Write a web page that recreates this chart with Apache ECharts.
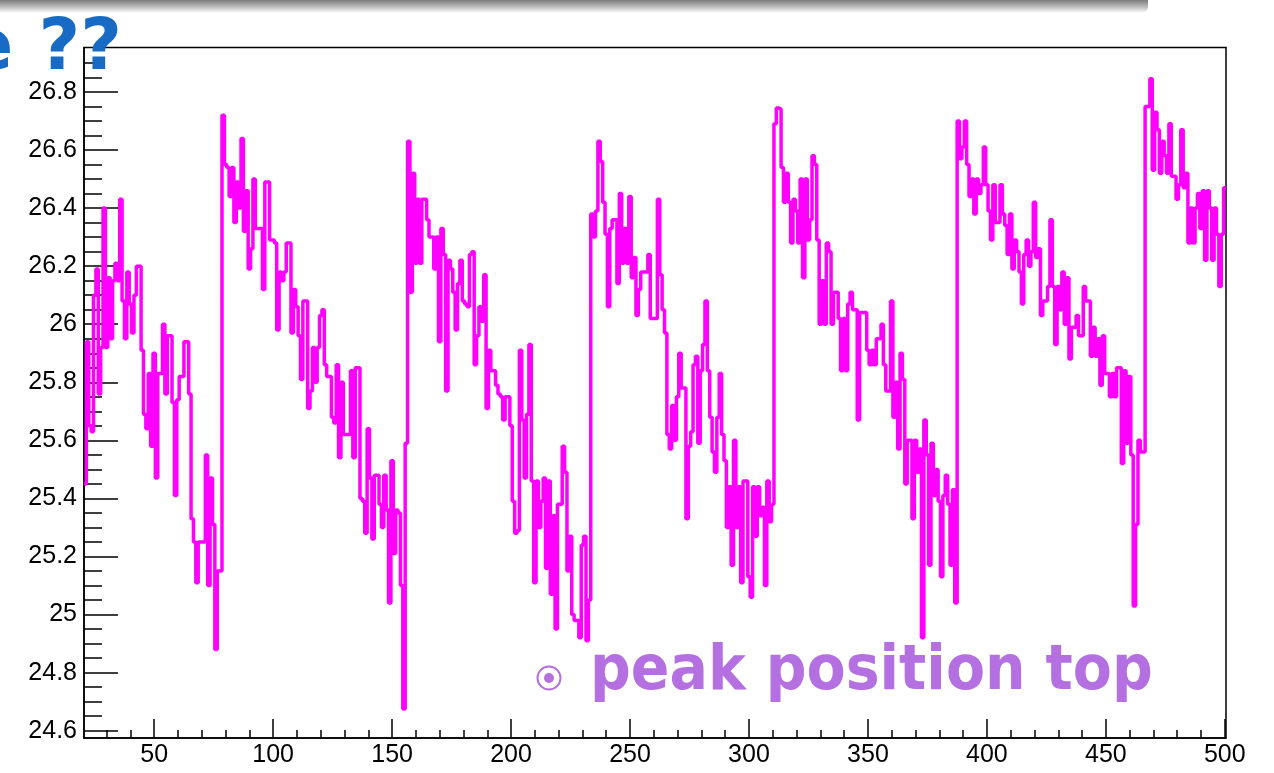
<!DOCTYPE html>
<html>
<head>
<meta charset="utf-8">
<script src="https://cdn.jsdelivr.net/npm/echarts@6/dist/echarts.min.js"></script>
<style>
  html, body { margin: 0; padding: 0; background: #fff; }
  #chart { width: 1274px; height: 773px; }
</style>
</head>
<body>
<div id="chart"></div>
<script>
// ---- data (bin width 1, first bin centred at 21) ----
const firstBin = 21;
const bins021to100 = [25.45,25.94,25.65,25.63,26.10,26.19,25.76,25.92,26.40,25.92,
  26.16,25.95,26.15,26.21,26.15,26.43,26.08,25.95,26.18,26.07,
  25.97,26.10,26.20,26.20,25.91,25.69,25.64,25.83,25.58,25.90,
  25.47,25.83,25.83,26.00,25.76,25.96,25.96,25.73,25.41,25.74,
  25.82,25.82,25.94,25.94,25.76,25.33,25.25,25.11,25.25,25.25,
  25.25,25.55,25.10,25.47,25.31,24.88,25.15,25.15,26.72,26.55,
  26.54,26.44,26.54,26.35,26.49,26.40,26.64,26.32,26.46,26.19,
  26.26,26.50,26.33,26.33,26.33,26.12,26.49,26.49,26.29,26.29];
const bins101to180 = [26.28,25.98,26.18,26.15,26.18,26.28,26.28,25.97,26.12,26.06,
  25.96,25.81,26.08,26.08,25.71,25.77,25.92,25.80,25.92,26.03,
  26.05,25.86,25.82,25.82,25.68,25.66,25.86,25.54,25.80,25.62,
  25.62,25.62,25.84,25.54,25.85,25.85,25.40,25.39,25.28,25.64,
  25.47,25.26,25.48,25.48,25.38,25.30,25.48,25.36,25.04,25.53,
  25.21,25.36,25.35,25.10,24.675,25.59,26.63,26.11,26.52,26.21,
  26.43,26.21,26.43,26.43,26.36,26.30,26.30,26.19,26.30,25.94,
  26.33,26.24,25.77,26.22,26.19,26.11,25.98,26.14,26.22,26.08];
const bins181to260 = [26.07,26.06,26.24,26.25,25.86,25.96,26.06,26.01,26.17,25.71,
  25.91,25.84,25.84,25.79,25.76,25.75,25.67,25.75,25.75,25.65,
  25.39,25.28,25.29,25.91,25.67,25.47,25.69,25.93,25.46,25.11,
  25.46,25.30,25.39,25.47,25.16,25.46,25.07,25.34,24.95,25.38,
  25.38,25.58,25.49,25.15,25.27,25.00,24.98,24.98,24.92,25.24,
  25.27,24.91,25.05,26.38,26.30,26.39,26.63,26.56,26.42,26.31,
  26.06,26.33,26.36,26.36,26.14,26.45,26.21,26.33,26.21,26.44,
  26.16,26.23,26.03,26.12,26.18,26.18,26.18,26.24,26.02,26.02];
const bins261to340 = [26.02,26.43,26.17,26.05,25.97,25.62,25.57,25.72,25.60,25.75,
  25.90,25.78,25.78,25.33,25.58,25.63,25.86,25.89,25.59,25.84,
  25.93,26.08,25.84,25.68,25.56,25.49,25.68,25.83,25.62,25.53,
  25.30,25.44,25.17,25.60,25.30,25.44,25.11,25.46,25.46,25.13,
  25.06,25.44,25.27,25.44,25.34,25.37,25.10,25.46,25.32,25.38,
  26.69,26.745,26.74,26.54,26.42,26.52,26.42,26.28,26.43,26.39,
  26.28,26.50,26.16,26.50,26.29,26.36,26.58,26.55,26.29,26.00,
  26.15,26.00,26.28,26.25,26.00,26.11,26.11,26.02,25.84,26.02];
const bins341to420 = [25.84,26.07,26.11,26.05,26.05,25.67,26.04,26.04,26.04,25.91,
  25.86,25.91,25.86,25.95,25.95,26.00,25.86,25.77,25.77,26.08,
  25.68,25.80,25.57,25.90,25.81,25.45,25.60,25.60,25.33,25.60,
  25.49,25.57,24.92,25.67,25.55,25.17,25.59,25.41,25.50,25.39,
  25.13,25.41,25.48,25.38,25.17,25.43,25.04,26.70,26.57,26.61,
  26.70,26.55,26.44,26.50,26.38,26.50,26.45,26.48,26.61,26.48,
  26.39,26.29,26.48,26.35,26.35,26.48,26.38,26.34,26.24,26.38,
  26.19,26.29,26.25,26.18,26.07,26.24,26.29,26.20,26.25,26.42];
const bins421to500 = [26.23,26.26,26.03,26.08,26.08,26.13,26.36,26.13,25.93,26.13,
  26.05,26.18,26.00,26.16,25.88,25.99,25.99,26.03,25.96,25.96,
  26.13,26.08,26.08,25.89,25.99,25.89,25.95,25.79,25.96,25.83,
  25.83,25.75,25.83,25.75,25.85,25.85,25.52,25.84,25.59,25.82,
  25.55,25.03,25.31,25.60,25.56,25.56,26.75,26.75,26.845,26.53,
  26.73,26.67,26.52,26.63,26.58,26.52,26.69,26.51,26.51,26.43,
  26.48,26.67,26.47,26.52,26.28,26.40,26.28,26.40,26.45,26.33,
  26.46,26.22,26.46,26.40,26.22,26.40,26.31,26.13,26.31,26.47];

const xMajorTicks = [50,100,150,200,250,300,350,400,450,500];
const xMinorTicks = [30,40,60,70,80,90,110,120,130,140,160,170,180,190,210,220,230,240,260,270,280,290,310,320,330,340,360,370,380,390,410,420,430,440,460,470,480,490];
const yMajorTicks = [24.6,24.8,25,25.2,25.4,25.6,25.8,26,26.2,26.4,26.6,26.8];
const yMinorTicks = [24.6,24.65,24.7,24.75,24.8,24.85,24.9,24.95,25,25.05,25.1,25.15,25.2,25.25,25.3,25.35,25.4,25.45,25.5,25.55,25.6,25.65,25.7,25.75,25.8,25.85,25.9,25.95,26,26.05,26.1,26.15,26.2,26.25,26.3,26.35,26.4,26.45,26.5,26.55,26.6,26.65,26.7,26.75,26.8,26.85,26.9];
const xRange = [20.5, 500.5];
const yRange = [24.575, 26.953];
const titleFragment = 'e ??';
const noteText = 'peak position top';

// ---- build step-histogram points from bins ----
const allBins = [].concat(bins021to100, bins101to180, bins181to260, bins261to340, bins341to420, bins421to500);
const pts = allBins.map((v, i) => [firstBin + i - 0.5, v]);
pts.push([firstBin + allBins.length - 0.5, allBins[allBins.length - 1]]);

const FONT = "'Liberation Sans', Arial, Helvetica, sans-serif";
const chart = echarts.init(document.getElementById('chart'), null, {renderer: 'canvas'});

function xAxisDef(ticks, len, showLabel) {
  return {
    type: 'value', gridIndex: 0, position: 'bottom', min: xRange[0], max: xRange[1],
    axisLine: {show: showLabel, onZero: false, lineStyle: {color: '#000', width: 1.5}},
    axisTick: {show: true, inside: true, length: len, customValues: ticks, lineStyle: {color: '#000', width: 1.5}},
    axisLabel: showLabel ? {customValues: ticks, fontSize: 25, color: '#000', margin: 5, fontFamily: FONT} : {show: false},
    splitLine: {show: false}
  };
}
function yAxisDef(ticks, len, showLabel) {
  return {
    type: 'value', gridIndex: 0, position: 'left', min: yRange[0], max: yRange[1],
    axisLine: {show: showLabel, onZero: false, lineStyle: {color: '#000', width: 1.5}},
    axisTick: {show: true, inside: true, length: len, customValues: ticks, lineStyle: {color: '#000', width: 1.5}},
    axisLabel: showLabel ? {customValues: ticks, fontSize: 25, color: '#000', margin: 7, fontFamily: FONT} : {show: false},
    splitLine: {show: false}
  };
}

const option = {
  animation: false,
  backgroundColor: '#ffffff',
  grid: {left: 84, right: 48, top: 47.5, bottom: 35, show: true, borderColor: '#000', borderWidth: 1.5, backgroundColor: 'transparent'},
  xAxis: [xAxisDef(xMajorTicks, 19, true), xAxisDef(xMinorTicks, 8, false)],
  yAxis: [yAxisDef(yMajorTicks, 34, true), yAxisDef(yMinorTicks, 18, false)],
  series: [{
    type: 'line', xAxisIndex: 0, yAxisIndex: 0, step: 'end', data: pts,
    symbol: 'none', lineStyle: {color: '#ff00ff', width: 3.5}, itemStyle: {color: '#ff00ff'}, z: 5
  }],
  graphic: [
    {type: 'rect', left: 0, top: 0, z: 100,
     shape: {x: 0, y: 0, width: 1148, height: 13, r: [0, 0, 6, 0]},
     style: {fill: new echarts.graphic.LinearGradient(0, 0, 0, 1, [
        {offset: 0, color: '#7d7d7d'}, {offset: 0.5, color: '#b8b8b8'}, {offset: 1, color: '#ffffff'}])}},
    {type: 'text', z: 100, style: {x: 122, y: 50, text: titleFragment, textAlign: 'right', textVerticalAlign: 'middle',
      fill: '#176bc4', font: "bold 72px 'DejaVu Sans', sans-serif"}},
    {type: 'circle', z: 100, shape: {cx: 549, cy: 678, r: 11.5}, style: {fill: 'none', stroke: '#b46fe0', lineWidth: 2}},
    {type: 'circle', z: 100, shape: {cx: 549, cy: 678, r: 5}, style: {fill: '#b46fe0'}},
    {type: 'text', z: 100, x: 590, y: 673, scaleY: 1.1, style: {x: 0, y: 0, text: noteText, textAlign: 'left', textVerticalAlign: 'middle',
      fill: '#b46fe0', font: "bold 57px 'DejaVu Sans', sans-serif"}}
  ]
};
chart.setOption(option);
</script>
</body>
</html>
